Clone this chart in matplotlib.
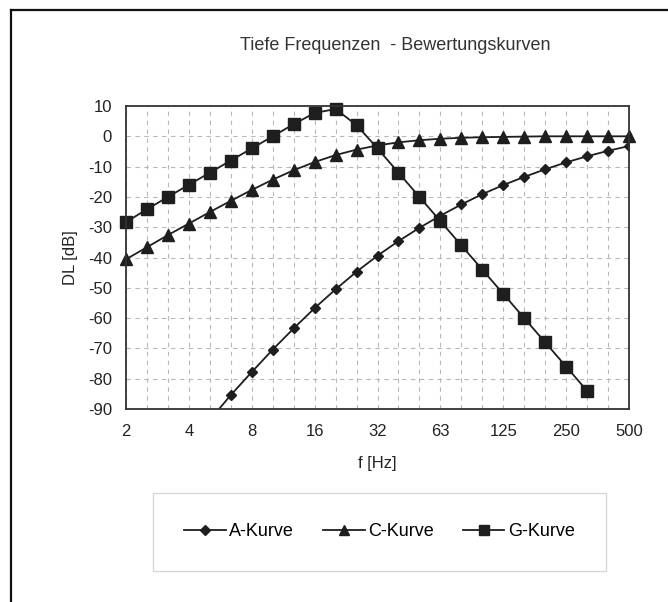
import matplotlib
matplotlib.use("Agg")
import matplotlib.pyplot as plt
from matplotlib.lines import Line2D

plt.rcParams["font.family"] = ["Liberation Sans", "DejaVu Sans"]
plt.rcParams["axes.unicode_minus"] = False

freqs = ["2", "2.5", "3.15", "4", "5", "6.3", "8", "10", "12.5", "16", "20", "25",
         "31.5", "40", "50", "63", "80", "100", "125", "160", "200", "250", "315", "400", "500"]
tick_labels = ["2", "4", "8", "16", "32", "63", "125", "250", "500"]

# A-curve (starts at 5 Hz, below the axis range)
a_curve = [None, None, None, None, -93.6, -85.4, -77.8, -70.4, -63.4, -56.7, -50.5, -44.7,
           -39.4, -34.6, -30.2, -26.2, -22.5, -19.1, -16.1, -13.4, -10.9, -8.6, -6.6, -4.8, -3.2]
c_curve = [-40.6, -36.6, -32.6, -28.8, -25.0, -21.3, -17.7, -14.3, -11.2, -8.5, -6.2, -4.4,
           -3.0, -2.0, -1.3, -0.8, -0.5, -0.3, -0.2, -0.1, 0.0, 0.0, 0.0, 0.0, 0.0]
g_curve = [-28.3, -24.1, -20.0, -16.0, -12.0, -8.0, -4.0, 0.0, 4.0, 7.7, 9.0, 3.7,
           -4.0, -12.0, -20.0, -28.0, -36.0, -44.0, -52.0, -60.0, -68.0, -76.0, -84.0, None, None]

W, H = 668, 602
fig = plt.figure(figsize=(W / 100, H / 100), dpi=100)
fig.patch.set_facecolor("white")

left, right, top, bottom = 126, 629, 106, 409
ax = fig.add_axes([left / W, 1 - bottom / H, (right - left) / W, (bottom - top) / H])

idx = list(range(len(freqs)))

def pts(vals):
    xs = [i for i, v in zip(idx, vals) if v is not None]
    ys = [v for v in vals if v is not None]
    return xs, ys

col = "#1e1e1e"
xa, ya = pts(a_curve)
xc, yc = pts(c_curve)
xg, yg = pts(g_curve)
ax.plot(xa, ya, color=col, lw=1.3, marker="D", ms=5.5, label="A-Kurve", clip_on=True)
ax.plot(xc, yc, color=col, lw=1.3, marker="^", ms=8, label="C-Kurve", clip_on=False)
ax.plot(xg, yg, color=col, lw=1.3, marker="s", ms=8, label="G-Kurve", clip_on=False)

ax.set_xlim(0, len(freqs) - 1)
ax.set_ylim(-90, 10)
ax.set_yticks(range(-90, 11, 10))
ax.set_xticks(range(0, len(freqs), 3))
ax.set_xticklabels(tick_labels)

for i in idx:
    ax.axvline(i, color="#b8b8b8", lw=0.8, ls=(0, (4, 4)), zorder=0)
for y in range(-80, 10, 10):
    ax.axhline(y, color="#b8b8b8", lw=0.8, ls=(0, (4, 4)), zorder=0)

for s in ax.spines.values():
    s.set_color("#333333")
    s.set_linewidth(1.3)

ax.tick_params(axis="both", which="both", length=0, labelsize=12, colors="#222222", pad=10)
ax.tick_params(axis="x", pad=11)

ax.set_xlabel("f [Hz]", fontsize=12, color="#222222", labelpad=12)
ax.set_ylabel("DL [dB]", fontsize=12, color="#222222", labelpad=7)

fig.text(395 / W, 1 - 45 / H, "Tiefe Frequenzen  - Bewertungskurven", ha="center", va="center",
         fontsize=13, color="#333333")

leg = fig.legend(loc="center", bbox_to_anchor=((154 + 605) / 2 / W, 1 - 532 / H), ncol=3,
                 fontsize=13, frameon=True, fancybox=False, handlelength=2.3, columnspacing=1.6,
                 borderpad=1.7, handletextpad=0.2, markerscale=0.9, borderaxespad=0)
leg.get_frame().set_edgecolor("#cccccc")
leg.get_frame().set_linewidth(1.0)
leg.get_frame().set_boxstyle("square", pad=0)

# outer frame (left and top lines)
fig.add_artist(Line2D([11 / W, 11 / W], [0, 1 - 10 / H], color="#111111", lw=1.6))
fig.add_artist(Line2D([11 / W, 1], [1 - 10 / H, 1 - 10 / H], color="#111111", lw=1.6))

fig.savefig("out.png", dpi=100)
